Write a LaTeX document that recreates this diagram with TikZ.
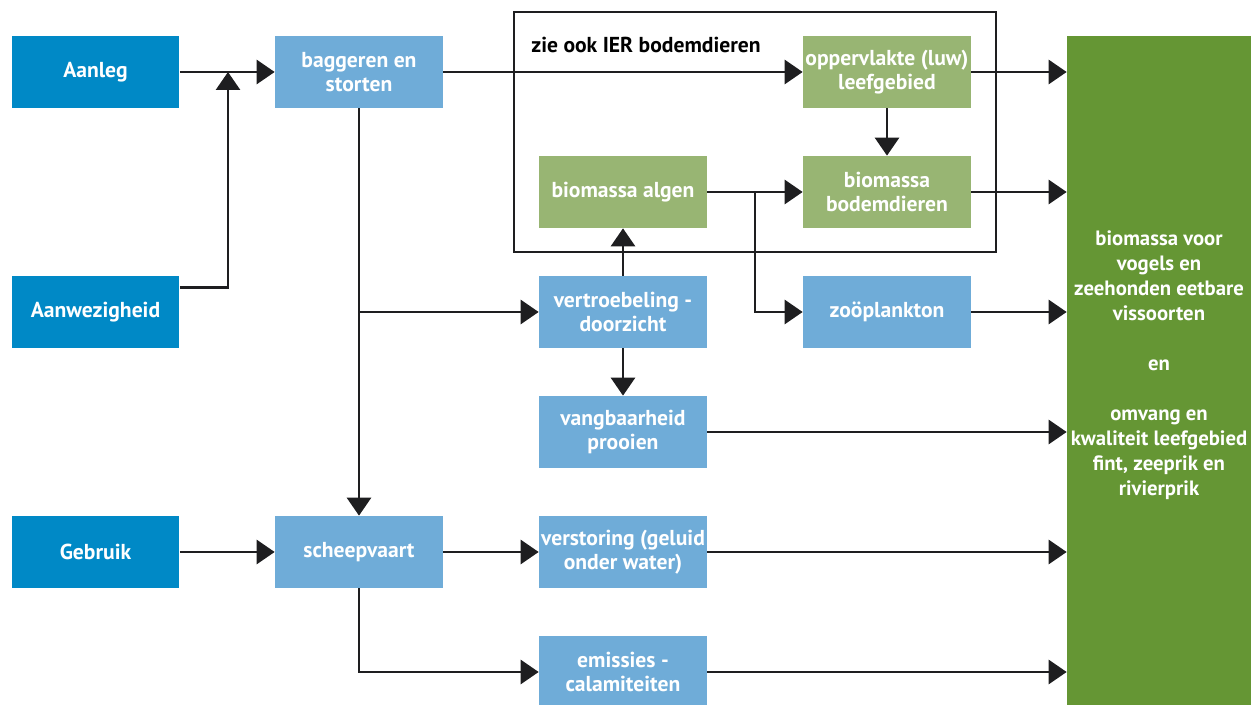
\documentclass[tikz,border=0pt]{standalone}
\usepackage{fontspec}
\setmainfont{PT Sans}
\usetikzlibrary{arrows.meta}
\usetikzlibrary{positioning}

\definecolor{donkerblauw}{RGB}{0,137,198}
\definecolor{lichtblauw}{RGB}{111,172,216}
\definecolor{lichtgroen}{RGB}{152,181,115}
\definecolor{donkergroen}{RGB}{101,150,52}

\tikzset{
    blok/.style={minimum width=3.36cm, minimum height=1.44cm, inner sep=0pt,
        text=white, align=center, font=\bfseries\fontsize{12.3}{13.6}\selectfont},
    bron/.style={blok, fill=donkerblauw},
    druk/.style={blok, fill=lichtblauw},
    bodem/.style={blok, fill=lichtgroen},
    pijl/.style={line width=1.6pt, draw={rgb,255:red,30;green,30;blue,32},
        -{Triangle[length=0.36cm, width=0.48cm]}},
}

\begin{document}
\begin{tikzpicture}[x=0.02cm, y=-0.02cm]
        \useasboundingbox (0, 0) rectangle (1251, 705);

        % kader bodemdieren
        \node[draw={rgb,255:red,30;green,30;blue,32}, line width=1.2pt,
              minimum width=9.64cm, minimum height=4.8cm] (kader) at (755, 132) {};
        \node[anchor=west, inner sep=0pt, font=\bfseries\fontsize{12.3}{13.6}\selectfont]
              (kadertitel) at (531, 45) {zie ook IER bodemdieren};

        % activiteiten
        \node[bron] (aanleg) at (95.5, 72) {Aanleg};
        \node[bron] (aanwezig) at (95.5, 312) {Aanwezigheid};
        \node[bron] (gebruik) at (95.5, 552) {Gebruik};

        % drukfactoren
        \node[druk] (baggeren) at (359, 72) {baggeren en\\storten};
        \node[druk] (scheepvaart) at (359, 552) {scheepvaart};
        \node[druk] (troebel) at (623, 312) {vertroebeling -\\doorzicht};
        \node[druk] (vangbaar) at (623, 432) {vangbaarheid\\prooien};
        \node[druk] (verstoring) at (623, 552) {verstoring (geluid\\onder water)};
        \node[druk] (emissies) at (623, 672) {emissies -\\calamiteiten};
        \node[druk] (zoo) at (887, 312) {zoöplankton};

        \node[bodem] (algen) at (623, 192) {biomassa algen};
        \node[bodem] (opp) at (887, 72) {oppervlakte (luw)\\leefgebied};
        \node[bodem] (bodemdier) at (887, 192) {biomassa\\bodemdieren};

        % doel
        \node[fill=donkergroen, minimum width=3.84cm, minimum height=13.56cm,
              inner sep=0pt] (doel) at (1163, 375) {};
        \node[text=white, align=center, inner sep=0pt,
              font=\bfseries\fontsize{11.8}{14.2}\selectfont] (doeltekst) at (1159, 365)
              {biomassa voor\\vogels en\\zeehonden eetbare\\vissoorten\\[14.2pt]en\\[14.2pt]omvang en\\kwaliteit leefgebied\\fint, zeeprik en\\rivierprik};

        % verbindingen
        \coordinate (j1) at (228, 72);
        \coordinate (j2) at (755, 192);

        \draw[pijl] (aanleg) -- (baggeren);
        \draw[pijl] ([yshift=-0.24cm]aanwezig.north east) -| (j1);
        \draw[pijl] (baggeren) -- (opp);
        \draw[pijl] (baggeren) -- (scheepvaart);
        \draw[pijl] (baggeren.south |- troebel) -- (troebel);
        \draw[pijl] (gebruik) -- (scheepvaart);
        \draw[pijl] (scheepvaart) -- (verstoring);
        \draw[pijl] (scheepvaart.south) |- (emissies);
        \draw[pijl] (troebel) -- (algen);
        \draw[pijl] (troebel) -- (vangbaar);
        \draw[pijl] (algen) -- (bodemdier);
        \draw[pijl] (j2) |- (zoo);
        \draw[pijl] (opp) -- (bodemdier);

        \draw[pijl] (opp) -- (opp -| doel.west);
        \draw[pijl] (bodemdier) -- (bodemdier -| doel.west);
        \draw[pijl] (zoo) -- (zoo -| doel.west);
        \draw[pijl] (vangbaar) -- (vangbaar -| doel.west);
        \draw[pijl] (verstoring) -- (verstoring -| doel.west);
        \draw[pijl] (emissies) -- (emissies -| doel.west);
    \end{tikzpicture}
\end{document}
